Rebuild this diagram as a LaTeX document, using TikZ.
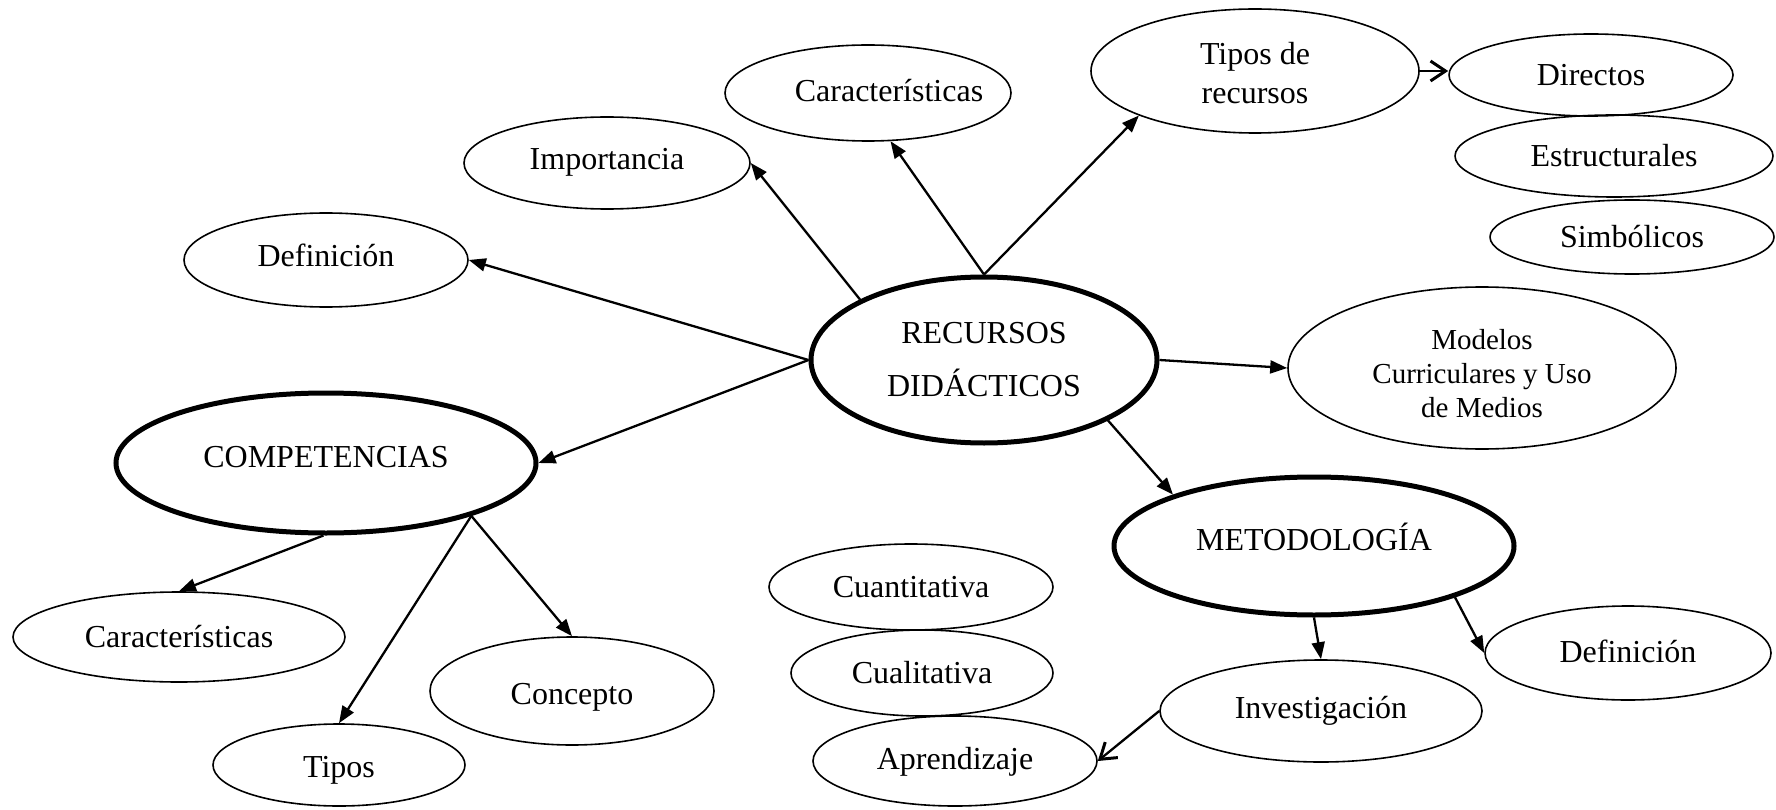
\documentclass[tikz,border=0pt]{standalone}
\usepackage{fontspec}
\setmainfont{Liberation Serif}
\usetikzlibrary{shapes.geometric,arrows.meta}
\begin{document}
\begin{tikzpicture}[x=1pt,y=-1pt,
 bub/.style={ellipse, draw, line width=1.6pt, inner sep=0pt},
 hub/.style={ellipse, draw, line width=5pt, inner sep=0pt},
 lbl/.style={inner sep=0pt, align=center, font=\fontsize{32}{39}\selectfont},
 arr/.style={line width=2.3pt, -{Triangle[length=17pt,width=13pt]}},
 oarr/.style={line width=2.3pt, -{Straight Barb[length=15pt,width=20pt,line width=3pt]}}
]
\useasboundingbox (0,0) rectangle (1776,810);
% ellipses
\node[hub, minimum width=346pt, minimum height=166pt] (rec) at (984,360) {};
\node[bub, minimum width=284pt, minimum height=94pt] (def1) at (326,260) {};
\node[bub, minimum width=286pt, minimum height=92pt] (imp) at (607,163) {};
\node[bub, minimum width=286pt, minimum height=96pt] (car1) at (868,93) {};
\node[bub, minimum width=328pt, minimum height=124pt] (tdr) at (1255,71) {};
\node[bub, minimum width=284pt, minimum height=82pt] (dir) at (1591,75) {};
\node[bub, minimum width=318pt, minimum height=82pt] (est) at (1614,156) {};
\node[bub, minimum width=284pt, minimum height=74pt] (sim) at (1632,237) {};
\node[bub, minimum width=388pt, minimum height=162pt] (mod) at (1482,368) {};
\node[hub, minimum width=400pt, minimum height=138pt] (met) at (1314,546) {};
\node[bub, minimum width=286pt, minimum height=94pt] (def2) at (1628,653) {};
\node[bub, minimum width=322pt, minimum height=102pt] (inv) at (1321,711) {};
\node[bub, minimum width=284pt, minimum height=86pt] (cuan) at (911,587) {};
\node[bub, minimum width=262pt, minimum height=86pt] (cual) at (922,673) {};
\node[bub, minimum width=284pt, minimum height=90pt] (apr) at (955,761) {};
\node[hub, minimum width=420pt, minimum height=140pt] (comp) at (326,463) {};
\node[bub, minimum width=332pt, minimum height=90pt] (car2) at (179,637) {};
\node[bub, minimum width=252pt, minimum height=82pt] (tps) at (339,765) {};
\node[bub, minimum width=284pt, minimum height=108pt] (con) at (572,691) {};
% labels
\node[lbl, font=\fontsize{32}{53}\selectfont] (rec-t) at (984,360) {RECURSOS\\DIDÁCTICOS};
\node[lbl] (def1-t) at (326,255) {Definición};
\node[lbl] (imp-t) at (607,162) {Importancia};
\node[lbl] (car1-t) at (889,91) {Características};
\node[lbl] (tdr-t) at (1255,73) {Tipos de\\recursos};
\node[lbl] (dir-t) at (1591,75) {Directos};
\node[lbl] (est-t) at (1614,156) {Estructurales};
\node[lbl] (sim-t) at (1632,237) {Simbólicos};
\node[lbl, font=\fontsize{29}{34}\selectfont] (mod-t) at (1482,374) {Modelos\\Curriculares y Uso\\de Medios};
\node[lbl] (met-t) at (1314,537) {METODOLOGÍA};
\node[lbl] (def2-t) at (1628,651) {Definición};
\node[lbl] (inv-t) at (1321,711) {Investigación};
\node[lbl] (cuan-t) at (911,587) {Cuantitativa};
\node[lbl] (cual-t) at (922,673) {Cualitativa};
\node[lbl] (apr-t) at (955,762) {Aprendizaje};
\node[lbl] (comp-t) at (326,457) {COMPETENCIAS};
\node[lbl] (car2-t) at (179,637) {Características};
\node[lbl] (tps-t) at (339,770) {Tipos};
\node[lbl] (con-t) at (572,697) {Concepto};
% connectors
\draw[arr] (rec.west) -- (def1.east);
\draw[arr] (rec.west) -- (comp.east);
\draw[arr] (rec.154) -- (imp.east);
\draw[arr] (rec.north) -- (car1.-65);
\draw[arr] (rec.north) -- (tdr.201);
\draw[oarr] (tdr.east) -- (tdr.east -| dir.west);
\draw[arr] (rec.east) -- (mod.west);
\draw[arr] (rec.-26) -- (met.160);
\draw[arr] (met.south) -- (inv.north);
\draw[arr] (met.-20) -- (def2.west);
\draw[oarr] (inv.west) -- (apr.east);
\draw[arr] (comp.-92) -- (car2.north);
\draw[arr] (comp.-20) -- (tps.north);
\draw[arr] (comp.-20) -- (con.north);
\end{tikzpicture}
\end{document}
